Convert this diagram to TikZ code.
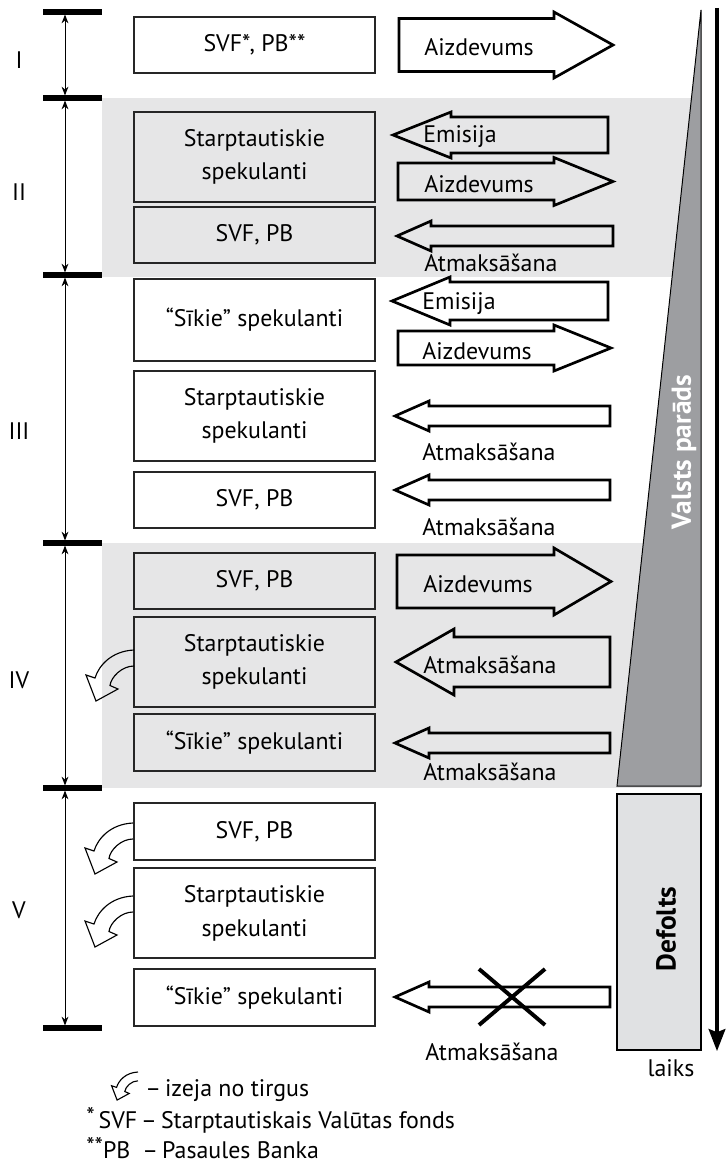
\documentclass[tikz,border=0pt]{standalone}
\usepackage{fontspec}
\setmainfont{PT Sans}
\usetikzlibrary{arrows.meta}

\definecolor{bandgray}{RGB}{230,230,231}
\definecolor{debtgray}{RGB}{157,158,161}
\definecolor{defgray}{RGB}{224,225,227}

\tikzset{
  box/.style={draw=black!85, line width=0.9pt, minimum width=60.25mm, align=center, inner sep=0pt},
  bar/.style={line width=3.6pt},
  period/.style={line width=0.7pt, {Stealth[length=2.2mm,width=1.7mm]}-{Stealth[length=2.2mm,width=1.7mm]}, shorten <=1.8pt, shorten >=1.8pt},
  blk/.style={line width=1.9pt, line join=miter},
  lbl/.style={anchor=west, inner sep=0pt},
  boldlbl/.style={rotate=90, inner sep=0pt, font=\fontsize{19.5}{23}\selectfont\bfseries},
  exitarr/.pic={
    \draw[line width=0.8pt, line join=miter] (0,0) .. controls (-22,1) and (-35,15) .. (-39,28)
      -- (-48,25) -- (-38,51) -- (-16,39) -- (-24,35.5) .. controls (-23,27) and (-12,16) .. (0,16);
  }
}

\begin{document}
\begin{tikzpicture}[x=0.25mm, y=-0.25mm, font=\fontsize{17}{24}\selectfont]
            \useasboundingbox (0,0) rectangle (726,1166);
            %
            \fill[bandgray] (102,98) rectangle (701,277);
            \fill[bandgray] (102,543) rectangle (701,788);
            %
            \foreach \y/\n in {12/0, 98/1, 275/2, 543/3, 788/4, 1028/5} {
                \draw[bar] (43,\y) -- (102,\y);
                \coordinate (t\n) at (65,\y);
            }
            \draw[period] (t0) -- (t1);
            \draw[period] (t1) -- (t2);
            \draw[period] (t2) -- (t3);
            \draw[period] (t3) -- (t4);
            \draw[period] (t4) -- (t5);
            %
            \node (p1) at (19,60) {I};
            \node (p2) at (19,192) {II};
            \node (p3) at (19,431) {III};
            \node (p4) at (19,680) {IV};
            \node (p5) at (19,910) {V};
            %
            \node[box, minimum height=14mm] (svf1) at (254.5,45) {SVF*, PB**};
            %
            \node[box, minimum height=22.5mm] (star2) at (254.5,157) {Starptautiskie\\spekulanti};
            \node[box, minimum height=14mm] (svf2) at (254.5,235) {SVF, PB};
            %
            \node[box, minimum height=20.5mm] (sik3) at (254.5,320) {“Sīkie” spekulanti};
            \node[box, minimum height=22.5mm] (star3) at (254.5,416) {Starptautiskie\\spekulanti};
            \node[box, minimum height=14mm] (svf3) at (254.5,500) {SVF, PB};
            %
            \node[box, minimum height=14mm] (svf4) at (254.5,581) {SVF, PB};
            \node[box, minimum height=22.5mm] (star4) at (254.5,662) {Starptautiskie\\spekulanti};
            \node[box, minimum height=14.25mm] (sik4) at (254.5,742.5) {“Sīkie” spekulanti};
            %
            \node[box, minimum height=14.25mm] (svf5) at (254.5,831.5) {SVF, PB};
            \node[box, minimum height=22.5mm] (star5) at (254.5,913) {Starptautiskie\\spekulanti};
            \node[box, minimum height=14.25mm] (sik5) at (254.5,997.5) {“Sīkie” spekulanti};
            %
            % iziesana no tirgus
            \pic (ex4) at (134,650) {exitarr};
            \pic (ex5a) at (133,823) {exitarr};
            \pic (ex5b) at (133,896) {exitarr};
            %
            % aizdevumi
            \draw[blk] (399,18.5) -- (554,18.5) -- (554,12) -- (613,45) -- (554,78) -- (554,71.5) -- (399,71.5) -- cycle;
            \draw[blk] (398,163) -- (554,163) -- (554,157.5) -- (613,181.5) -- (554,205.5) -- (554,200) -- (398,200) -- cycle;
            \draw[blk] (398,331) -- (554,331) -- (554,325) -- (611,348) -- (554,371) -- (554,365) -- (398,365) -- cycle;
            \draw[blk] (397,555) -- (554,555) -- (554,548) -- (611,581.5) -- (554,615) -- (554,608) -- (397,608) -- cycle;
            %
            % emisija
            \draw[blk] (608,117) -- (451,117) -- (451,112) -- (393,135) -- (451,158) -- (451,153) -- (608,153) -- cycle;
            \draw[blk] (608,282) -- (450,282) -- (450,277) -- (392,301) -- (450,325) -- (450,320) -- (608,320) -- cycle;
            %
            % atmaksasana
            \draw[blk] (613,226) -- (431,226) -- (431,221) -- (397,236) -- (431,251) -- (431,246) -- (613,246) -- cycle;
            \foreach \y in {416, 490, 743, 997}
                \draw[blk] (610,\y-10) -- (429,\y-10) -- (429,\y-15) -- (395,\y) -- (429,\y+15) -- (429,\y+10) -- (610,\y+10) -- cycle;
            \draw[blk] (610,637) -- (454,637) -- (454,629) -- (396,662) -- (454,695) -- (454,687) -- (610,687) -- cycle;
            %
            \draw[line width=2.8pt] (479,969) -- (545,1025) (545,969) -- (479,1025);
            %
            \node[lbl] (aiz1) at (424,47) {Aizdevums};
            \node[lbl] (emi2) at (423,137) {Emisija};
            \node[lbl] (aiz2) at (424,184) {Aizdevums};
            \node[lbl] (atm2) at (424,263) {Atmaksāšana};
            \node[lbl] (emi3) at (422,304) {Emisija};
            \node[lbl] (aiz3) at (422,351) {Aizdevums};
            \node[lbl] (atm3a) at (422,452) {Atmaksāšana};
            \node[lbl] (atm3b) at (422,527) {Atmaksāšana};
            \node[lbl] (aiz4) at (423,584) {Aizdevums};
            \node[lbl] (atm4a) at (423,665) {Atmaksāšana};
            \node[lbl] (atm4b) at (423,772) {Atmaksāšana};
            \node[lbl] (atm5) at (425,1052) {Atmaksāšana};
            %
            % valsts parads un defolts
            \filldraw[fill=debtgray, draw=black, line width=0.7pt] (701,10) -- (701,786) -- (617,786) -- cycle;
            \node[boldlbl, text=white] (debt) at (684,452) {Valsts parāds};
            \node[draw, fill=defgray, line width=1.1pt, minimum width=21mm, minimum height=64mm, inner sep=0pt] (defbox) at (659,922) {};
            \node[boldlbl] (defolts) at (666,929) {Defolts};
            %
            \coordinate (tstart) at (717,8);
            \coordinate (tend) at (717,1051);
            \draw[line width=2.2pt, -{Stealth[length=5.5mm,width=4.2mm,inset=0.8mm]}] (tstart) -- (tend);
            \node (laiks) at (671,1068) {laiks};
            %
            % legend
            \pic[scale=0.55] (exl) at (138,1072) {exitarr};
            \node[lbl] (leg1) at (145,1091) {–\,izeja no tirgus};
            \node[lbl] (leg2) at (86,1120) {\raisebox{0.35ex}{*}\,SVF\,–\,Starptautiskais Valūtas fonds};
            \node[lbl] (leg3) at (86,1148) {\raisebox{0.35ex}{**}PB\hspace{3mm}–\,Pasaules Banka};
        \end{tikzpicture}
\end{document}
